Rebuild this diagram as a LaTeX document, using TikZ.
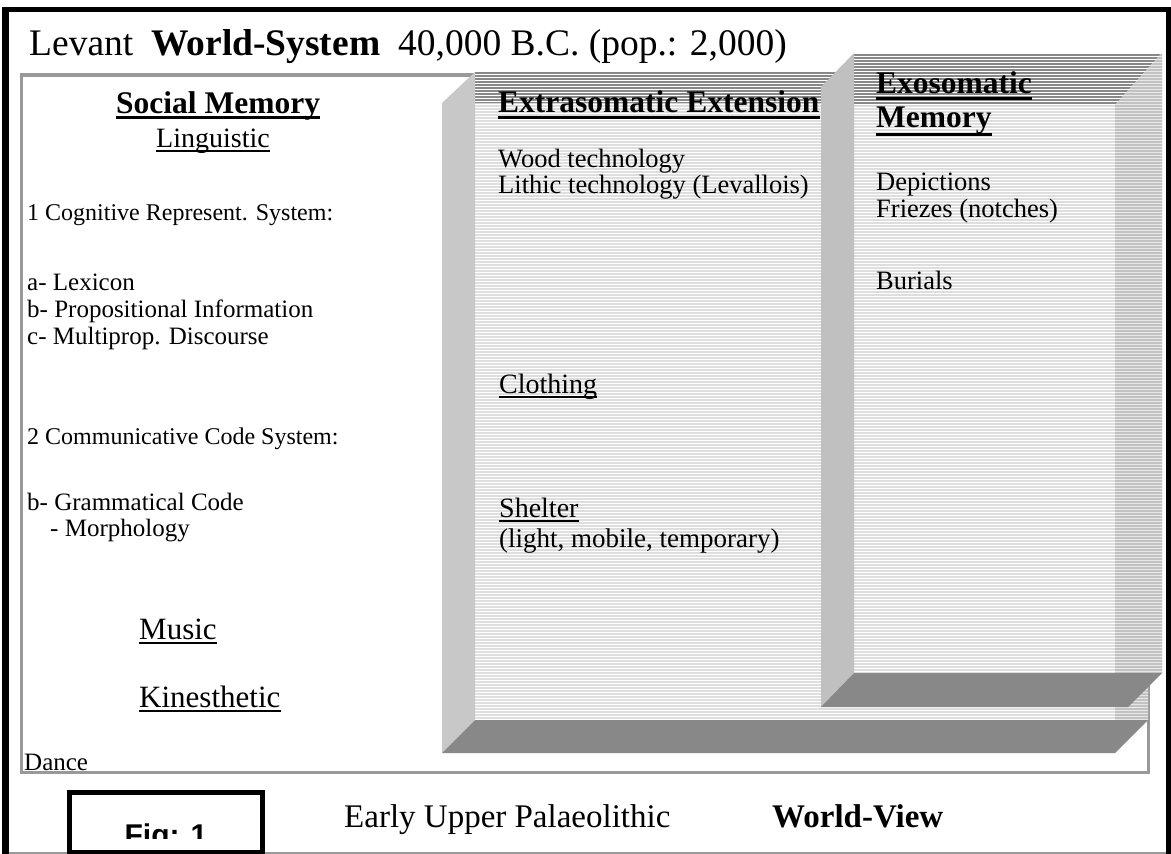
\documentclass[tikz,border=0pt]{standalone}
\usepackage{fontspec}
\setmainfont{Liberation Serif}
\newfontfamily\figfont{Liberation Sans}

\definecolor{framegray}{HTML}{999999}
\definecolor{wallgray}{HTML}{C8C8C8}
\definecolor{wallgraydark}{HTML}{C0C0C0}
\definecolor{floorgray}{HTML}{888888}
\definecolor{linegray}{HTML}{DEDEDE}
\definecolor{sidegray}{HTML}{C2C2C2}
\definecolor{sidebg}{HTML}{E8E8E8}

% fill a face with horizontal hairline stripes
\newcommand{\stripedface}[4]{%
  \begin{scope}
    \clip #1;
    \fill[#2] (0,0) rectangle (1171,854);
    \foreach \yy in {40,43,...,780} \draw[#3, line width=#4] (400,\yy) -- (1171,\yy);
  \end{scope}}

% rule under a text node
\newcommand{\underrule}[3]{%
  \draw[line width=#2] ([yshift=-#3]#1.base west) -- ([yshift=-#3]#1.base east);}

\newcommand{\fsz}[1]{\fontsize{#1}{#1}\selectfont}

\tikzset{
  lbl/.style={inner sep=0pt, anchor=base west},
  fsTitle/.style={font=\fsz{37.5}},
  fsCap/.style={font=\fsz{33}},
  fsHead/.style={font=\fsz{31.5}\bfseries},
  fsSub/.style={font=\fsz{28}},
  fsSubL/.style={font=\fsz{31}},
  fsBig/.style={font=\fsz{24}},
  fsSmall/.style={font=\fsz{25}},
  fsItem/.style={font=\fsz{26.5}},
}

\begin{document}
\begin{tikzpicture}[x=1pt,y=-1pt]
\useasboundingbox (0,0) rectangle (1171,854);
\fill[white] (0,0) rectangle (1171,854);

% page border
\fill[black] (2,7) rectangle (9,854);
\fill[black] (2,7) rectangle (1171,12);
\fill[black] (1166,7) rectangle (1171,854);
\draw[framegray, line width=1.5pt] (9,853) -- (1166,853);

% inner frame
\draw[framegray, line width=3.5pt] (21.5,75) rectangle (1148.5,772.5);

% ---- open box: Extrasomatic Extension
\stripedface{(475,103) rectangle (1115,720)}{white}{linegray}{1.3pt}
\stripedface{(475,72) -- (1148,72) -- (1115,103) -- (475,103) -- cycle}{white}{floorgray}{1.6pt}
\stripedface{(1115,103) -- (1148,72) -- (1148,720) -- (1115,720) -- cycle}{sidebg}{sidegray}{1.5pt}
\fill[wallgray] (442,103) -- (475,72) -- (475,720) -- (442,753) -- cycle;
\fill[floorgray] (442,753) -- (475,720) -- (1148,720) -- (1115,753) -- cycle;

% ---- open box: Exosomatic Memory
\stripedface{(854,105) rectangle (1115,673)}{white}{linegray}{1.3pt}
\stripedface{(854,53) -- (1162,53) -- (1115,105) -- (854,105) -- cycle}{white}{floorgray}{1.6pt}
\stripedface{(1115,105) -- (1162,53) -- (1162,673) -- (1115,673) -- cycle}{sidebg}{sidegray}{1.5pt}
\fill[wallgraydark] (821,87) -- (854,53) -- (854,673) -- (821,707) -- cycle;
\fill[floorgray] (821,707) -- (854,673) -- (1162,673) -- (1128,707) -- cycle;

% ---- title
\node[lbl, fsTitle] (tlev) at (29,55) {Levant};
\node[lbl, fsTitle] (tws) at (151,55) {\bfseries World-System};
\node[lbl, fsTitle] (tdate) at (398,55) {40,000 B.C. (pop.: 2,000)};

% ---- social memory column
\node[lbl, fsHead] (social) at (116,113) {Social Memory};
\underrule{social}{2.5pt}{4.5pt}
\node[lbl, fsSub] (ling) at (156,147) {Linguistic};
\underrule{ling}{1.5pt}{4pt}
\node[lbl, fsBig] (cog) at (27,220) {1 Cognitive Represent. System:};
\node[lbl, fsSmall] (lex) at (27,290) {a- Lexicon};
\node[lbl, fsSmall] (prop) at (27,317) {b- Propositional Information};
\node[lbl, fsSmall] (multi) at (27,344) {c- Multiprop. Discourse};
\node[lbl, fsBig] (comm) at (27,444) {2 Communicative Code System:};
\node[lbl, fsSmall] (gram) at (27,510) {b- Grammatical Code};
\node[lbl, fsSmall] (morph) at (50,536) {- Morphology};
\node[lbl, fsSubL] (music) at (139,639) {Music};
\underrule{music}{1.5pt}{4pt}
\node[lbl, fsSubL] (kin) at (139,707) {Kinesthetic};
\underrule{kin}{1.5pt}{4pt}
\node[lbl, fsSmall] (dance) at (24,770) {Dance};

% ---- extrasomatic extension
\node[lbl, fsHead] (extra) at (498,112) {Extrasomatic Extension};
\underrule{extra}{3pt}{5.5pt}
\node[lbl, fsItem] (wood) at (498,167) {Wood technology};
\node[lbl, fsItem] (lithic) at (498,193) {Lithic technology (Levallois)};
\node[lbl, fsSub] (cloth) at (499,393) {Clothing};
\underrule{cloth}{1.5pt}{4pt}
\node[lbl, fsSub] (shelter) at (499,517) {Shelter};
\underrule{shelter}{1.5pt}{4pt}
\node[lbl, font=\fsz{27}] (light) at (499,547) {(light, mobile, temporary)};

% ---- exosomatic memory
\node[lbl, fsHead] (exo) at (876,93) {Exosomatic};
\underrule{exo}{3pt}{5.5pt}
\node[lbl, fsHead] (mem) at (876,127) {Memory};
\underrule{mem}{3pt}{7pt}
\node[lbl, fsItem] (dep) at (876,190) {Depictions};
\node[lbl, fsItem] (friez) at (876,217) {Friezes (notches)};
\node[lbl, fsItem] (bur) at (876,289) {Burials};

% ---- figure tag and caption
\draw[line width=5pt] (69.5,792.5) rectangle (262.5,852.5);
\begin{scope}
  \clip (72,795) rectangle (260,838);
  \node[inner sep=0pt, anchor=base, font=\figfont\fsz{30}\bfseries] (fig) at (166,845) {Fig: 1};
\end{scope}
\node[lbl, fsCap] (early) at (344,827) {Early Upper Palaeolithic};
\node[lbl, fsCap] (view) at (772,827) {\bfseries World-View};
\end{tikzpicture}
\end{document}
